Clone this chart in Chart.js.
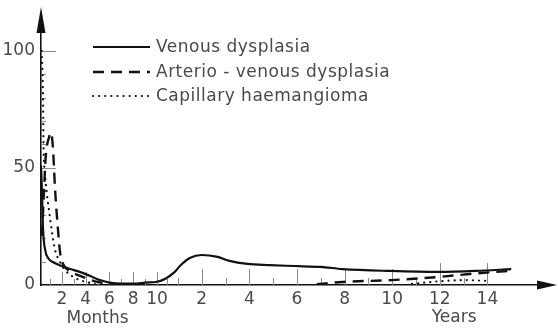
<!DOCTYPE html>
<html><head><meta charset="utf-8">
<script src="https://cdn.jsdelivr.net/npm/chart.js@4"></script>
<style>html,body{margin:0;padding:0;background:#fff}#wrap{width:558px;height:328px;position:relative}</style>
</head><body><div id="wrap"><canvas id="c"></canvas></div>
<script>
// ---- data (ages in months, values in %) ----
const seriesLabels = ['Venous dysplasia', 'Arterio - venous dysplasia', 'Capillary haemangioma'];
const venousAge = [0.25, 0.33, 0.42, 0.6, 0.85, 1.25, 2, 2.7, 3.5, 4.4, 5.2, 6, 7, 8, 9, 10, 10.75, 11.7, 13, 18, 24, 32, 38, 47, 58, 71, 84, 95, 119, 143, 162, 180];
const venousPct = [51, 40, 24, 15, 11.5, 9.8, 8.1, 6.8, 5.6, 3.8, 2.1, 1, 0.6, 0.6, 1, 1.4, 2.6, 5.6, 8.1, 11.5, 12.8, 12, 10.3, 9, 8.5, 8.1, 7.7, 6.8, 6, 5.6, 6, 6.8];
const avAge = [0.33, 0.5, 0.65, 0.92, 1.09, 1.26, 1.43, 1.68, 1.85, 2.1, 2.7, 3.8, 5, 6, 7.1, null, 82, 95, 120, 143, 159, 179];
const avPct = [21, 40, 55, 63, 65, 58, 41, 23.5, 14, 9, 6, 3.4, 1.3, 0.4, 0, null, 0.3, 1.3, 2.1, 3.4, 4.7, 6];
const capAge = [0.3, 0.38, 0.42, 0.46, 0.59, 0.75, 0.92, 1.17, 1.43, 1.85, 2.27, 2.85, 3.5, 4.4, 5, null, 130, 144, 157, 167];
const capPct = [100, 90, 80, 61, 47, 38.5, 32, 22.6, 15, 9.8, 6.4, 3.8, 2.1, 0.85, 0, null, 0.5, 1.6, 2.1, 1.8];
const monthTickLabels = [2, 4, 6, 8, 10];
const yearTickLabels = [2, 4, 6, 8, 10, 12, 14];
const yTickLabels = [0, 50, 100];

// piecewise axis: months spread wide, years compressed
function axisPos(m) {
  if (m <= 10) return m;
  if (m <= 12) return 10 + (m - 10) * 0.875;
  return 11.75 + (m - 12) / 6;
}
function toPoints(ages, vals) {
  return ages.map((a, i) => a === null ? {x: NaN, y: null} : {x: axisPos(a), y: vals[i]});
}

const xTickVals = [...monthTickLabels.map(m => axisPos(m)), ...yearTickLabels.map(y => axisPos(12 * y))];
const xTickTexts = [...monthTickLabels.map(String), ...yearTickLabels.map(String)];

const FONT = 'DejaVu Sans';
const INK = '#111';
const TXT = '#4a4a4a';

const decor = {
  id: 'decor',
  beforeDatasetsDraw(chart) {
    const {ctx, chartArea: ca, scales: {x, y}} = chart;
    ctx.save();
    ctx.strokeStyle = '#8a8a8a';
    ctx.lineWidth = 1;
    for (let v = 10; v <= 100; v += 10) {
      const py = Math.round(y.getPixelForValue(v)) + 0.5;
      const len = (v === 50 || v === 100) ? 15 : 5;
      ctx.beginPath(); ctx.moveTo(ca.left, py); ctx.lineTo(ca.left + len, py); ctx.stroke();
    }
    for (let m = 1; m <= 11; m++) {
      const px = Math.round(x.getPixelForValue(axisPos(m))) + 0.5;
      const len = m % 2 === 0 ? 13 : 6;
      ctx.beginPath(); ctx.moveTo(px, ca.bottom); ctx.lineTo(px, ca.bottom - len); ctx.stroke();
    }
    for (let yr = 1; yr <= 14; yr++) {
      const px = Math.round(x.getPixelForValue(axisPos(12 * yr))) + 0.5;
      const len = yr % 2 === 0 ? (yr >= 12 ? 22 : 16) : 7;
      ctx.beginPath(); ctx.moveTo(px, ca.bottom); ctx.lineTo(px, ca.bottom - len); ctx.stroke();
    }
    ctx.restore();
  },
  afterDraw(chart) {
    const {ctx, chartArea: ca, scales: {x}} = chart;
    ctx.save();
    ctx.fillStyle = INK;
    ctx.beginPath();
    ctx.moveTo(ca.left, 7); ctx.lineTo(ca.left - 4.5, ca.top + 1); ctx.lineTo(ca.left + 4.5, ca.top + 1); ctx.closePath(); ctx.fill();
    ctx.beginPath();
    ctx.moveTo(557, ca.bottom); ctx.lineTo(ca.right - 1, ca.bottom - 4.5); ctx.lineTo(ca.right - 1, ca.bottom + 4.5); ctx.closePath(); ctx.fill();
    ctx.fillStyle = TXT;
    ctx.font = '17px "' + FONT + '"';
    ctx.textAlign = 'center'; ctx.textBaseline = 'middle';
    ctx.fillText('Months', x.getPixelForValue(axisPos(5)), 319);
    ctx.fillText('Years', x.getPixelForValue(axisPos(12 * 12.6)), 318);
    const rows = [47, 72, 96];
    chart.data.datasets.forEach((ds, i) => {
      const ry = rows[i];
      ctx.save();
      ctx.strokeStyle = ds.borderColor;
      ctx.lineWidth = ds.borderWidth;
      ctx.lineCap = ds.borderCapStyle || 'butt';
      ctx.setLineDash(ds.borderDash || []);
      ctx.beginPath(); ctx.moveTo(93, ry); ctx.lineTo(150, ry); ctx.stroke();
      ctx.restore();
      ctx.fillStyle = TXT;
      ctx.textAlign = 'left'; ctx.textBaseline = 'middle';
      ctx.font = '17px "' + FONT + '"';
      try { ctx.letterSpacing = '0.5px'; } catch (e) {}
      ctx.fillText(ds.label, 156, ry + 1);
      try { ctx.letterSpacing = '0px'; } catch (e) {}
    });
    ctx.restore();
  }
};

new Chart(document.getElementById('c'), {
  type: 'line',
  data: {
    datasets: [
      {label: seriesLabels[0], data: toPoints(venousAge, venousPct), borderColor: INK, borderWidth: 2.2, pointRadius: 0, cubicInterpolationMode: 'monotone', fill: false},
      {label: seriesLabels[1], data: toPoints(avAge, avPct), borderColor: INK, borderWidth: 2.4, borderDash: [11, 7], pointRadius: 0, cubicInterpolationMode: 'monotone', fill: false},
      {label: seriesLabels[2], data: toPoints(capAge, capPct), borderColor: INK, borderWidth: 2.2, borderDash: [0.1, 6], borderCapStyle: 'round', pointRadius: 0, cubicInterpolationMode: 'monotone', fill: false}
    ]
  },
  options: {
    responsive: true,
    maintainAspectRatio: false,
    animation: false,
    spanGaps: false,
    layout: {padding: {top: 32, right: 20, left: 0, bottom: 0}},
    plugins: {legend: {display: false}, tooltip: {enabled: false}},
    scales: {
      x: {
        type: 'linear', min: 0.25, max: 42,
        afterBuildTicks(s) { s.ticks = xTickVals.map(v => ({value: v})); },
        afterFit(s) { s.height = 43; },
        grid: {display: false, drawTicks: false},
        border: {display: true, color: INK, width: 1.6},
        ticks: {
          autoSkip: false, maxRotation: 0, padding: 4, color: TXT,
          font: {family: FONT, size: 17},
          callback: (v, i) => xTickTexts[i]
        }
      },
      y: {
        type: 'linear', min: 0, max: 108,
        afterBuildTicks(s) { s.ticks = yTickLabels.map(v => ({value: v})); },
        afterFit(s) { s.width = 41; },
        grid: {display: false, drawTicks: false},
        border: {display: true, color: INK, width: 1.6},
        ticks: {
          padding: 6, color: TXT,
          font: {family: FONT, size: 17},
          callback: v => String(v)
        }
      }
    }
  },
  plugins: [decor]
});
</script>
</body></html>
